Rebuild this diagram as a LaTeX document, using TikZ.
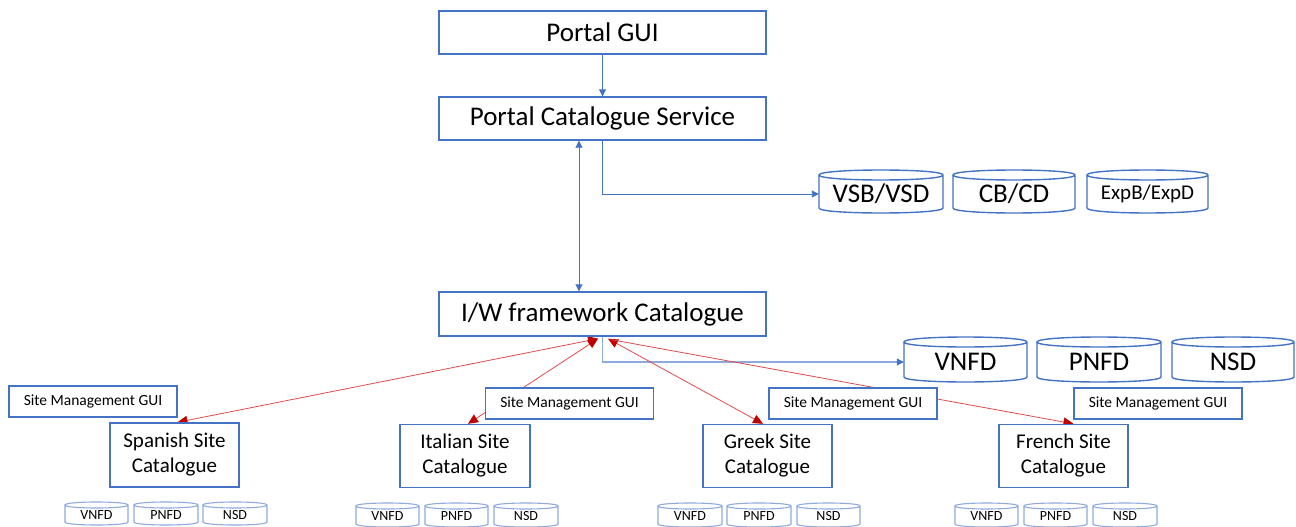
\documentclass[tikz,border=0pt]{standalone}
\usepackage{fontspec}
\setmainfont{Carlito}
\usetikzlibrary{arrows.meta,backgrounds,calc}

\definecolor{boxblue}{HTML}{4472C4}
\definecolor{cylblue}{HTML}{8FAADC}
\definecolor{softblue}{HTML}{8EA9DB}
\definecolor{linkred}{HTML}{E04B4B}
\definecolor{tipred}{HTML}{C00000}

% database cylinder: #1 style, #2 name, #3 left, #4 right, #5 top, #6 bottom, #7 cap radius, #8 label
\newcommand\dbcyl[8]{%
  \node[#1, minimum width={(#4-#3)*1pt}, minimum height={(#6-#5)*1pt}]
    (#2) at ({(#3+#4)/2},{(#5+#6)/2+#7/2}) {#8};
  \draw[#1line] (#3,{#5+#7}) -- (#3,{#6-#7})
    .. controls (#3,{#6+#7/3}) and (#4,{#6+#7/3}) .. (#4,{#6-#7})
    -- (#4,{#5+#7})
    .. controls (#4,{#5-#7/3}) and (#3,{#5-#7/3}) .. (#3,{#5+#7})
    .. controls (#3,{#5+7*#7/3}) and (#4,{#5+7*#7/3}) .. (#4,{#5+#7});
}

\tikzset{
  mainbox/.style={draw=boxblue, line width=1.4pt, fill=white, inner sep=0pt,
    font=\fontsize{27}{32}\selectfont},
  guibox/.style={draw=boxblue, line width=1.4pt, fill=white, inner sep=0pt,
    minimum width=168pt, minimum height=31pt, font=\fontsize{15.5}{18}\selectfont},
  sitebox/.style={draw=boxblue, line width=1.4pt, fill=white, inner sep=0pt,
    minimum width=129pt, minimum height=63pt, align=center,
    font=\fontsize{21}{25}\selectfont},
  bigdb/.style={inner sep=0pt, font=\fontsize{27}{32}\selectfont},
  bigdbline/.style={draw=boxblue, line width=1.4pt},
  expdb/.style={inner sep=0pt, font=\fontsize{21}{25}\selectfont},
  expdbline/.style={draw=boxblue, line width=1.4pt},
  smalldb/.style={inner sep=0pt, font=\fontsize{14}{16}\selectfont},
  smalldbline/.style={draw=cylblue, line width=1.1pt},
  bluelink/.style={draw=boxblue, line width=0.9pt,
    >={Triangle[length=7pt,width=7pt]}},
  softlink/.style={draw=softblue, line width=1.1pt,
    >={Triangle[length=7pt,width=7pt,color=boxblue]}},
  redlink/.style={draw=linkred, line width=0.8pt,
    >={Triangle[length=10pt,width=9pt,color=tipred]}},
}

\begin{document}
\begin{tikzpicture}[x=1pt,y=-1pt]
\useasboundingbox (0,0) rectangle (1296,527);

% portal level
\node[mainbox, minimum width=327pt, minimum height=43pt] (pgui) at (602.5,32.5) {Portal GUI};
\node[mainbox, minimum width=327pt, minimum height=43pt] (pcs) at (602.5,118.5) {Portal Catalogue Service};
\node[mainbox, minimum width=327pt, minimum height=44pt] (iw) at (602.5,314) {I/W framework Catalogue};

% portal catalogue stores
\dbcyl{bigdb}{vsb}{819}{943}{170}{213}{5}{VSB/VSD}
\dbcyl{bigdb}{cbcd}{953}{1075}{170}{213}{5}{CB/CD}
\dbcyl{expdb}{expb}{1087}{1208}{170}{213}{5}{ExpB/ExpD}

% framework catalogue stores
\dbcyl{bigdb}{vnfd}{904}{1027}{337}{382}{5}{VNFD}
\dbcyl{bigdb}{pnfd}{1037}{1161}{337}{382}{5}{PNFD}
\dbcyl{bigdb}{nsd}{1172}{1294}{337}{382}{5}{NSD}

% site management GUIs
\node[guibox] (spgui) at (93,401.5) {Site Management GUI};
\node[guibox] (itgui) at (569.5,403.5) {Site Management GUI};
\node[guibox] (grgui) at (853,403.5) {Site Management GUI};
\node[guibox] (frgui) at (1158,403.5) {Site Management GUI};

% site catalogues
\node[sitebox, minimum height=64pt] (spcat) at (174.5,455) {Spanish Site\\Catalogue};
\node[sitebox, minimum width=130pt] (itcat) at (465,456) {Italian Site\\Catalogue};
\node[sitebox] (grcat) at (767.5,456) {Greek Site\\Catalogue};
\node[sitebox] (frcat) at (1063.5,456) {French Site\\Catalogue};

% site catalogue stores
\dbcyl{smalldb}{spv}{65}{128}{502}{525}{3}{VNFD}
\dbcyl{smalldb}{spp}{134}{198}{502}{525}{3}{PNFD}
\dbcyl{smalldb}{spn}{203}{267}{502}{525}{3}{NSD}
\dbcyl{smalldb}{itv}{356}{419}{503}{527}{3}{VNFD}
\dbcyl{smalldb}{itp}{425}{488}{503}{527}{3}{PNFD}
\dbcyl{smalldb}{itn}{494}{558}{503}{527}{3}{NSD}
\dbcyl{smalldb}{grv}{658}{722}{503}{527}{3}{VNFD}
\dbcyl{smalldb}{grp}{727}{791}{503}{527}{3}{PNFD}
\dbcyl{smalldb}{grn}{797}{860}{503}{527}{3}{NSD}
\dbcyl{smalldb}{frv}{955}{1018}{503}{527}{3}{VNFD}
\dbcyl{smalldb}{frp}{1024}{1087}{503}{527}{3}{PNFD}
\dbcyl{smalldb}{frn}{1093}{1157}{503}{527}{3}{NSD}

% connector end points
\coordinate (pcsL) at ($(pcs.south)+(-23.5,0)$);
\coordinate (iwT) at ($(iw.north)+(-23.5,0)$);
\coordinate (iwA) at ($(iw.south)+(-4.5,2)$);
\coordinate (iwB) at ($(iw.south)+(5.5,2)$);
\coordinate (iwC) at ($(iw.south)+(9,3)$);
\coordinate (spT) at ($(spcat.north)+(3,0)$);
\coordinate (itT) at ($(itcat.north)+(3,0)$);
\coordinate (grT) at ($(grcat.north)+(-4.5,0)$);
\coordinate (frT) at ($(frcat.north)+(10,0)$);

\begin{scope}[on background layer]
  \draw[bluelink,->] (pgui) -- (pcs);
  \draw[bluelink,<->] (pcsL) -- (iwT);
  \draw[bluelink,->] (pcs.south) |- (vsb.west);
  \draw[softlink,->] (iw.south) |- (vnfd.west);
  \draw[redlink,<->] (iwA) -- (spT);
  \draw[redlink,<->] (iwA) -- (itT);
  \draw[redlink,<->] (iwB) -- (grT);
  \draw[redlink,->] (iwC) -- (frT);
\end{scope}
\end{tikzpicture}
\end{document}
